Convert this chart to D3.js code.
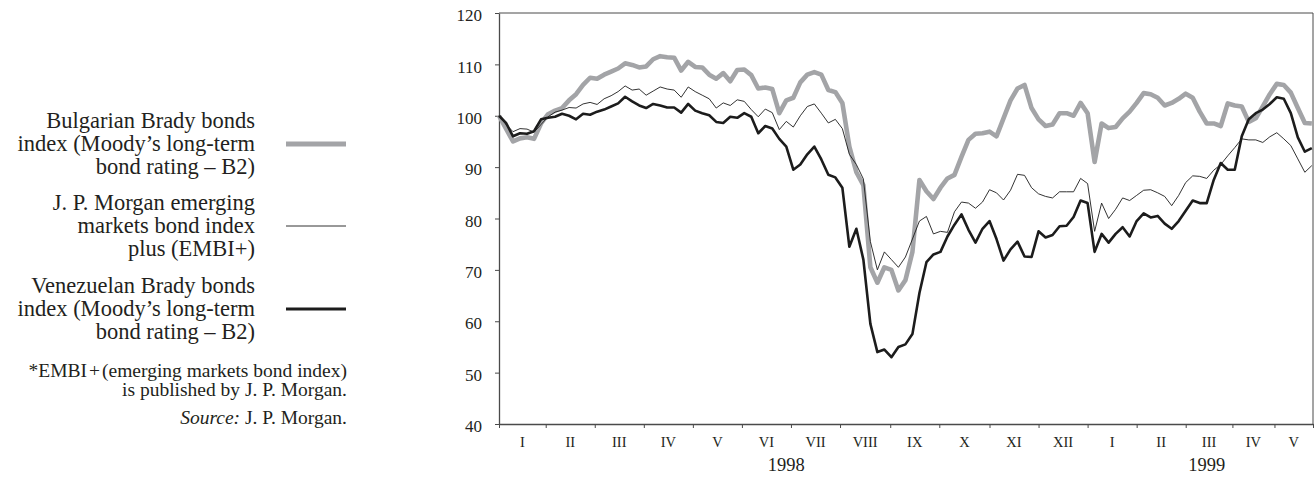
<!DOCTYPE html>
<html>
<head>
<meta charset="utf-8">
<script src="https://cdn.jsdelivr.net/npm/d3@7/dist/d3.min.js"></script>
<style>
  html, body { margin: 0; padding: 0; background: #fff; }
  svg { display: block; }
  text { font-family: "Liberation Serif", "Times New Roman", serif; fill: #231f20; }
</style>
</head>
<body>
<svg id="chart" width="1316" height="477"></svg>
<script>
// ---- data (one observation every 3 trading days, starting 100 = start of Jan 1998) ----
const stepDays = 3;
const bulgaria = [
  100, 97.5, 95.0, 95.6, 95.8, 95.5, 98.5, 100.3, 101.0, 101.5,
  103.0, 104.2, 106.0, 107.4, 107.2, 108.0, 108.6, 109.2, 110.2, 109.9,
  109.4, 109.6, 111.0, 111.6, 111.4, 111.3, 108.8, 110.5, 109.5, 109.4,
  108.0, 107.2, 108.3, 106.7, 108.9, 109.0, 107.9, 105.3, 105.5, 105.2,
  100.5, 103.0, 103.5, 106.5, 108.0, 108.5, 108.0, 105.0, 104.6, 102.5,
  94.0, 89.0, 86.5, 70.5, 67.5, 70.5, 70.0, 66.0, 68.0, 73.5,
  87.5, 85.3, 83.8, 86.0, 87.8, 88.5, 92.0, 95.3, 96.5, 96.6,
  96.9, 96.0, 99.5, 103.0, 105.3, 106.0, 101.5, 99.3, 98.0, 98.3,
  100.5, 100.5, 100.0, 102.5, 100.5, 91.0, 98.5, 97.6, 97.8, 99.5,
  100.8, 102.5, 104.4, 104.2, 103.5, 102.0, 102.5, 103.3, 104.3, 103.5,
  100.8, 98.5, 98.5, 98.0, 102.4, 102.0, 101.8, 98.8, 99.5, 101.8,
  104.2, 106.2, 106.0, 104.5, 101.5, 98.6, 98.5
];
const embiPlus = [
  100, 98.3, 96.9, 97.5, 97.4, 96.8, 98.3, 99.8, 100.7, 101.1,
  101.6, 101.5, 102.3, 102.6, 102.2, 103.3, 103.9, 104.7, 105.8, 105.0,
  105.2, 104.0, 104.8, 105.6, 105.2, 105.0, 103.6, 105.6, 104.7, 104.0,
  103.3, 101.5, 102.5, 102.0, 103.1, 102.8, 101.2, 99.8, 101.3, 100.6,
  97.3, 98.9, 97.8, 100.0, 101.8, 102.3, 100.5, 98.6, 99.3, 97.5,
  92.5, 90.5, 87.7, 75.5, 70.0, 73.5, 72.0, 70.5, 72.5, 76.0,
  79.5, 80.4, 77.0, 77.5, 77.3, 81.3, 83.2, 83.0, 82.0, 83.2,
  85.6, 85.0, 83.6, 85.5, 88.6, 88.4, 86.0, 84.8, 84.3, 84.0,
  85.2, 85.2, 85.2, 87.8, 86.8, 77.5, 83.0, 80.0, 81.8, 84.0,
  83.5, 84.5, 85.5, 85.6, 85.0, 84.3, 82.5, 84.5, 87.0, 88.3,
  88.2, 87.8, 89.4, 90.5, 92.2, 93.8, 95.5, 95.3, 95.3, 94.8,
  95.9, 96.7, 95.5, 94.2, 91.6, 89.0, 90.3
];
const venezuela = [
  100, 98.6, 96.0, 96.6, 96.5, 97.0, 99.3, 99.6, 99.8, 100.4,
  100.0, 99.3, 100.4, 100.2, 100.8, 101.2, 101.8, 102.4, 103.7, 102.8,
  102.0, 101.5, 102.3, 102.0, 101.6, 101.6, 100.6, 102.3, 101.0, 100.5,
  100.1, 98.8, 98.6, 99.8, 99.6, 100.5, 99.8, 96.6, 98.0, 97.5,
  95.5, 94.0, 89.5, 90.5, 92.5, 94.0, 91.5, 88.5, 88.0, 86.0,
  74.5, 78.0, 72.0, 59.5, 54.0, 54.5, 53.0, 55.0, 55.5, 57.5,
  65.5, 71.5, 73.0, 73.5, 76.5, 78.8, 80.8, 77.8, 75.3, 78.0,
  79.5, 76.0, 71.8, 74.0, 75.5, 72.6, 72.5, 77.5, 76.3, 76.8,
  78.5, 78.6, 80.3, 83.5, 83.0, 73.5, 77.0, 75.3, 77.0, 78.3,
  76.5, 79.5, 81.0, 80.2, 80.5, 79.0, 78.0, 79.5, 81.5, 83.5,
  83.0, 83.0, 87.5, 90.8, 89.5, 89.5, 96.0, 99.3, 100.5, 101.2,
  102.3, 103.6, 103.3, 100.5, 95.8, 93.0, 93.7
];
// month boundaries in trading days from the start of January 1998
const monthBounds = [0, 20, 41, 62, 83, 104, 125, 146, 167.5, 188.5, 210, 231, 252, 273, 294, 314, 332, 348.5];
const monthLabels = ["I","II","III","IV","V","VI","VII","VIII","IX","X","XI","XII","I","II","III","IV","V"];
const yearLabels = ["1998", "1999"];
const yTicks = [40, 50, 60, 70, 80, 90, 100, 110, 120];

const legendTexts = [
  ["Bulgarian Brady bonds", "index (Moody’s long-term", "bond rating – B2)"],
  ["J. P. Morgan emerging", "markets bond index", "plus (EMBI+)"],
  ["Venezuelan Brady bonds", "index (Moody’s long-term", "bond rating – B2)"]
];

// ---- drawing ----
(function draw() {
const svg = d3.select("#chart");
const mLeft = 499, mRight = 1313, mTop = 13, mBottom = 424;
const x = d3.scaleLinear().domain([0, 348.5]).range([mLeft, mRight]);
const y = d3.scaleLinear().domain([40, 120]).range([mBottom, mTop]);

const axisColor = "#4a4a4a";
const grey = "#a3a4a7";
const black = "#1c1c1c";

// frame (top and right)
svg.append("line").attr("x1", mLeft).attr("x2", mRight).attr("y1", mTop).attr("y2", mTop)
  .attr("stroke", axisColor).attr("stroke-width", 1);
svg.append("line").attr("x1", mRight).attr("x2", mRight).attr("y1", mTop).attr("y2", mBottom)
  .attr("stroke", axisColor).attr("stroke-width", 1);

// y axis
const yAxis = d3.axisLeft(y).tickValues(yTicks).tickSize(4).tickPadding(13).tickSizeOuter(0);
const gy = svg.append("g").attr("transform", `translate(${mLeft},0)`).call(yAxis);
gy.select(".domain").attr("stroke", axisColor).attr("stroke-width", 1.3);
gy.selectAll(".tick line").attr("stroke", axisColor);
gy.selectAll(".tick text").attr("font-size", 17).attr("font-family", "Liberation Serif")
  .attr("fill", "#231f20").attr("dy", "0.45em");

// x axis: month boundary ticks
const xAxis = d3.axisBottom(x).tickValues(monthBounds).tickSize(4).tickFormat("").tickSizeOuter(0);
const gx = svg.append("g").attr("transform", `translate(0,${mBottom})`).call(xAxis);
gx.select(".domain").attr("stroke", axisColor).attr("stroke-width", 1.3);
gx.selectAll(".tick line").attr("stroke", axisColor);

// month labels centered in each month
const monthCenters = monthLabels.map((m, i) => ({ m, c: (monthBounds[i] + monthBounds[i + 1]) / 2 }));
svg.append("g").selectAll("text").data(monthCenters).join("text")
  .attr("x", d => x(d.c)).attr("y", 447)
  .attr("text-anchor", "middle").attr("font-size", 14.5)
  .text(d => d.m);

// year labels
const yearDays = [123, 303];
svg.append("g").selectAll("text").data(yearLabels).join("text")
  .attr("x", (d, i) => x(yearDays[i])).attr("y", 471)
  .attr("text-anchor", "middle").attr("font-size", 18.5)
  .text(d => d);

// series
const line = d3.line().x((d, i) => x(i * stepDays)).y(d => y(d));
svg.append("path").datum(bulgaria).attr("d", line)
  .attr("fill", "none").attr("stroke", grey).attr("stroke-width", 4.6).attr("stroke-linejoin", "round");
svg.append("path").datum(embiPlus).attr("d", line)
  .attr("fill", "none").attr("stroke", black).attr("stroke-width", 0.9).attr("stroke-linejoin", "round");
svg.append("path").datum(venezuela).attr("d", line)
  .attr("fill", "none").attr("stroke", black).attr("stroke-width", 2.6).attr("stroke-linejoin", "round");

// legend
const legendStyles = [
  { stroke: grey, w: 5 },
  { stroke: black, w: 0.9 },
  { stroke: black, w: 2.8 }
];
const legendLineY = [144, 226, 309];
const lg = svg.append("g");
legendTexts.forEach((lines, i) => {
  const cy = legendLineY[i];
  lines.forEach((t, j) => {
    lg.append("text").attr("x", 255).attr("y", cy + (j - 1) * 22.7 + 7)
      .attr("text-anchor", "end").attr("font-size", 22.5).text(t);
  });
  lg.append("line").attr("x1", 286).attr("x2", 346).attr("y1", cy).attr("y2", cy)
    .attr("stroke", legendStyles[i].stroke).attr("stroke-width", legendStyles[i].w);
});

// footnote
const fn = svg.append("g").attr("font-size", 19.5);
const f1 = fn.append("text").attr("x", 347).attr("y", 377).attr("text-anchor", "end");
f1.append("tspan").text("*EMBI");
f1.append("tspan").attr("dx", 2).text("+");
f1.append("tspan").attr("dx", 2).text("(emerging markets bond index)");
fn.append("text").attr("x", 347).attr("y", 396).attr("text-anchor", "end")
  .text("is published by J. P. Morgan.");
const src = fn.append("text").attr("x", 347).attr("y", 424).attr("text-anchor", "end");
src.append("tspan").attr("font-style", "italic").text("Source:");
src.append("tspan").text(" J. P. Morgan.");
})();
</script>
</body>
</html>
